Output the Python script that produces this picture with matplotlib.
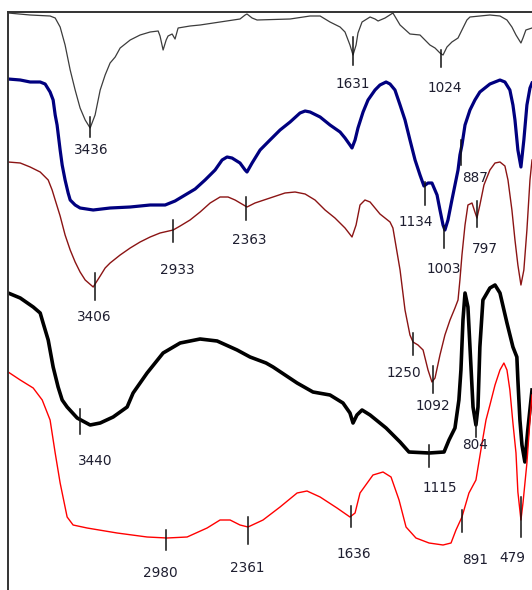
import numpy as np
import matplotlib
matplotlib.use("Agg")
import matplotlib.pyplot as plt

# ---------------- data (wavenumber cm-1, arbitrary offset transmittance) ----------------
gray_wn = [3999,3848,3711,3676,3642,3608,3573,3539,3505,3470,3436,3402,3367,3333,3299,3264,3230,3161,3093,3024,
           2969,2956,2935,2914,2901,2873,2853,2832,2750,2681,2544,2407,2372,2359,2324,2290,2063,1926,1857,1789,
           1720,1686,1652,1631,1610,1597,1569,1514,1480,1459,1411,1357,1308,1240,1171,1137,1103,1068,1034,1013,
           986,952,910,883,849,828,760,691,622,574,540,512,478,464,444,402]
gray_T = [577,575,574,572,563,545,520,500,482,470,462,475,500,515,527,533,542,550,555,558,
          559,554,540,550,554,556,551,562,564,565,568,571,575,576,572,570,571,574,574,568,
          563,558,545,535,545,557,568,573,571,569,572,577,565,556,555,550,545,542,537,535,
          543,548,552,560,570,573,574,575,574,570,563,555,547,552,560,562]

navy_wn = [3999,3916,3848,3779,3745,3711,3690,3676,3663,3642,3628,3608,3587,3573,3539,3505,3415,3299,3161,3024,
           2921,2853,2784,2715,2647,2578,2530,2496,2462,2407,2372,2359,2324,2269,2201,2132,2063,1995,1960,1926,
           1857,1789,1720,1686,1652,1638,1617,1597,1562,1528,1480,1446,1404,1377,1343,1308,1274,1240,1205,1171,
           1144,1116,1089,1054,1034,1013,1000,979,952,931,910,897,883,862,828,794,760,691,622,588,
           554,533,519,499,478,458,437,416,402]
navy_T = [511,510,508,508,506,498,490,475,465,440,425,410,397,390,385,382,380,382,383,385,
          385,389,395,401,410,420,430,433,432,427,420,418,427,440,450,460,468,477,479,478,
          473,465,458,452,445,442,450,462,478,490,500,505,508,506,500,485,470,450,430,415,
          404,407,407,395,380,365,360,370,390,405,420,435,445,465,480,490,498,506,510,508,
          500,485,470,440,423,450,485,502,507]

maroon_wn = [3999,3916,3848,3779,3724,3697,3676,3642,3608,3573,3539,3505,3470,3415,3367,3333,3299,3230,3161,3093,
             3024,2956,2866,2818,2750,2681,2612,2544,2489,2441,2359,2304,2201,2098,2029,1960,1892,1823,1755,1686,
             1638,1610,1583,1549,1514,1446,1377,1357,1343,1308,1274,1240,1219,1185,1150,1116,1089,1068,1034,1000,
             965,931,910,897,883,862,842,814,794,780,760,732,691,656,622,588,567,540,519,499,
             478,458,437,416,402]
maroon_T = [428,427,423,418,410,400,390,374,355,340,328,318,310,303,314,322,327,335,342,348,
            353,357,360,364,370,378,387,393,393,390,383,387,392,397,398,396,390,380,372,362,
            353,365,385,390,388,376,368,362,350,320,280,255,248,245,240,220,208,212,235,255,
            270,282,290,310,335,365,385,387,378,372,385,405,420,427,428,424,410,380,350,325,
            305,320,360,410,430]

black_wn = [3999,3916,3827,3779,3759,3724,3690,3656,3628,3594,3525,3436,3367,3278,3182,3141,3045,2935,2818,2681,
            2564,2427,2338,2228,2180,2015,1906,1789,1700,1652,1631,1604,1569,1514,1404,1308,1247,1109,1006,972,
            931,904,890,876,862,842,828,807,787,773,760,739,691,656,622,574,533,506,499,485,
            471,451,431,402]
black_T = [297,292,283,277,267,250,223,203,190,183,172,165,167,173,183,197,217,237,247,251,
           249,240,233,227,223,207,198,195,187,177,167,175,180,175,162,148,138,137,138,150,
           162,190,220,270,297,283,243,183,165,183,243,290,302,305,297,267,243,233,210,170,
           145,128,160,200]

red_wn = [3999,3916,3827,3765,3711,3676,3642,3594,3553,3457,3251,3045,2908,2770,2633,2544,2475,2407,2352,2249,
          2132,2015,1947,1857,1741,1652,1617,1583,1494,1425,1370,1315,1267,1199,1109,1013,958,924,883,835,
          787,753,718,691,656,622,595,574,554,533,512,499,478,464,437,416,402]
red_T = [218,210,202,190,170,137,107,73,65,62,57,53,52,53,62,70,70,65,63,70,
         83,97,99,93,82,73,77,97,115,118,113,90,63,52,47,45,47,60,73,97,
         110,140,170,185,205,220,227,220,200,167,137,98,70,87,127,170,195]

# peak labels: (text, spectrum, position of the mark on the wavenumber axis)
peak_labels = ["3436", "1631", "1024",
               "1134", "1003", "887",
               "3406", "2933", "2363", "1250", "1092", "797",
               "3440", "1115", "804",
               "2980", "2361", "1636", "891", "479"]
peak_series = ["gray", "gray", "gray",
               "navy", "navy", "navy",
               "maroon", "maroon", "maroon", "maroon", "maroon", "maroon",
               "black", "black", "black",
               "red", "red", "red", "red", "red"]
peak_marks = [3436, 1631, 1024,
              1134, 1003, 887,
              3406, 2866, 2363, 1219, 1085, 782,
              3505, 1109, 787,
              2914, 2352, 1645, 883, 478]

# ---------------- styles / layout ----------------
series = {
    "gray":   (gray_wn, gray_T, "#3c3c3c", 0.9),
    "navy":   (navy_wn, navy_T, "#00007f", 2.3),
    "maroon": (maroon_wn, maroon_T, "#8b1414", 1.0),
    "black":  (black_wn, black_T, "#000000", 2.6),
    "red":    (red_wn, red_T, "#ff0000", 1.0),
}
# (tick top offset, tick bottom offset, label dx, label dy) in pixels, y downward
label_layout = [(-11, 9, 1, 22), (-18, 10, 0, 29), (-4, 13, 3, 34),
                (-3, 20, -10, 37), (-3, 19, -1, 40), (-8, 17, 14, 30),
                (-12, 15, 0, 32), (-10, 12, 4, 40), (-10, 13, 3, 33), (-9, 13, -9, 31), (-15, 12, 0, 25), (-16, 10, 8, 32),
                (-11, 14, 15, 41), (-8, 14, 11, 35), (-10, 12, -1, 20),
                (-8, 12, -6, 35), (-10, 17, -1, 41), (-10, 11, 3, 38), (-7, 15, 13, 43), (-23, 17, -9, 38)]

W, H, DPI = 532, 590, 100
fig = plt.figure(figsize=(W / DPI, H / DPI), dpi=DPI)
ax = fig.add_axes([8 / W, 0, 524.3 / W, 1 - 12 / H])
ax.set_xlim(4000, 400)
ax.set_ylim(0, 578)

for name, (wn, T, col, lw) in series.items():
    ax.plot(wn, T, color=col, lw=lw, solid_joinstyle="round", zorder=2)

for txt, sname, mark, (t0, t1, dx, dy) in zip(peak_labels, peak_series, peak_marks, label_layout):
    wn, T = series[sname][0], series[sname][1]
    yc = np.interp(mark, wn[::-1], T[::-1])
    ax.plot([mark, mark], [yc - t0, yc - t1], color="#111111", lw=1.1, zorder=3)
    ax.annotate(txt, xy=(mark, yc), xytext=(dx, -dy), textcoords="offset pixels",
                ha="center", va="center", fontsize=9.8, color="#1e1e30",
                family="DejaVu Sans")

for s in ("right", "bottom"):
    ax.spines[s].set_visible(False)
for s in ("left", "top"):
    ax.spines[s].set_color("#333333")
    ax.spines[s].set_linewidth(1.4)
ax.set_xticks([])
ax.set_yticks([])
ax.patch.set_alpha(0)

fig.savefig("out.png", dpi=DPI)
